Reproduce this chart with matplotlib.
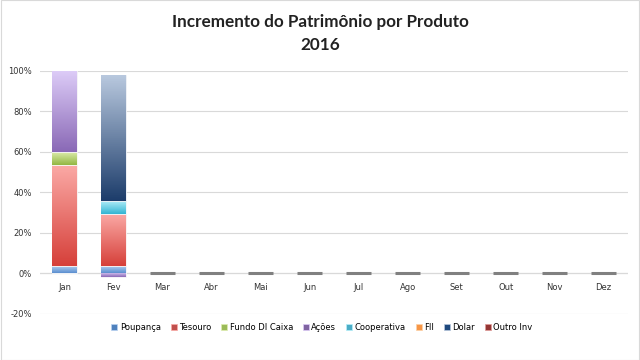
import numpy as np
import matplotlib.pyplot as plt
from matplotlib.colors import LinearSegmentedColormap
from matplotlib.patches import Patch
from matplotlib.ticker import FuncFormatter

months = ["Jan", "Fev", "Mar", "Abr", "Mai", "Jun", "Jul", "Ago", "Set", "Out", "Nov", "Dez"]
produtos = ["Poupança", "Tesouro", "Fundo DI Caixa", "Ações", "Cooperativa", "FII", "Dolar", "Outro Inv"]

# share of the month's increment (fraction)
poupanca = [0.035, 0.035, 0, 0, 0, 0, 0, 0, 0, 0, 0, 0]
tesouro = [0.50, 0.26, 0, 0, 0, 0, 0, 0, 0, 0, 0, 0]
fundo_di = [0.065, 0.0, 0, 0, 0, 0, 0, 0, 0, 0, 0, 0]
acoes = [0.40, -0.02, 0, 0, 0, 0, 0, 0, 0, 0, 0, 0]
cooperativa = [0.0, 0.065, 0, 0, 0, 0, 0, 0, 0, 0, 0, 0]
fii = [0, 0, 0, 0, 0, 0, 0, 0, 0, 0, 0, 0]
dolar = [0.0, 0.62, 0, 0, 0, 0, 0, 0, 0, 0, 0, 0]
outro = [0, 0, 0, 0, 0, 0, 0, 0, 0, 0, 0, 0]

series = [poupanca, tesouro, fundo_di, acoes, cooperativa, fii, dolar, outro]

# (light top, dark bottom, legend colour)
COLORS = [
    ("#b9d3f2", "#5b8fd0", "#4f81bd"),
    ("#fbaaa6", "#d6403a", "#c0504d"),
    ("#e0eeb0", "#93b743", "#9bbb59"),
    ("#dccbf7", "#8a69b6", "#8064a2"),
    ("#b6f0fa", "#33b5d3", "#4bacc6"),
    ("#fcd2a8", "#f08a2c", "#f79646"),
    ("#b8c8de", "#1d3d6b", "#1f497d"),
    ("#e09a98", "#8c2f2d", "#943634"),
]

fig = plt.figure(figsize=(6.4, 3.6), dpi=100)
fig.patch.set_facecolor("white")
ax = fig.add_axes([0.0625, 0.128, 0.919, 0.675])

x = np.arange(len(months))
width = 0.51
pos_bottom = np.zeros(len(months))
neg_bottom = np.zeros(len(months))

for vals, (c_top, c_bot, c_leg) in zip(series, COLORS):
    vals = np.array(vals, dtype=float)
    bottoms = np.where(vals >= 0, pos_bottom, neg_bottom)
    bars = ax.bar(x, vals, width, bottom=bottoms, color=c_leg, edgecolor="white",
                  linewidth=0.6, zorder=3)
    cmap = LinearSegmentedColormap.from_list("g", [c_bot, c_top])
    grad = np.linspace(0, 1, 64).reshape(-1, 1)
    for b, v in zip(bars, vals):
        if v == 0:
            b.set_visible(False)
            continue
        x0, y0 = b.get_x(), b.get_y()
        w, h = b.get_width(), b.get_height()
        y_lo, y_hi = min(y0, y0 + h), max(y0, y0 + h)
        im = ax.imshow(grad, cmap=cmap, aspect="auto", origin="lower",
                       extent=(x0, x0 + w, y_lo, y_hi), zorder=3)
        im.set_clip_path(b)
    pos_bottom += np.where(vals > 0, vals, 0)
    neg_bottom += np.where(vals < 0, vals, 0)

# empty months show as a flat grey bar at zero
total = np.abs(np.array(series)).sum(axis=0)
ax.bar(x, np.zeros(len(months)), width, bottom=0, color="#999999",
       edgecolor=["#808080" if t == 0 else "none" for t in total],
       linewidth=2.2, zorder=2)

ax.set_xlim(-0.5, len(months) - 0.5)
ax.set_ylim(-0.2, 1.0)
ax.set_yticks(np.arange(-0.2, 1.01, 0.2))
ax.yaxis.set_major_formatter(FuncFormatter(lambda v, p: f"{v * 100:.0f}%"))
ax.set_xticks(x)
ax.set_xticklabels(months)
ax.spines["bottom"].set_position(("data", 0))
ax.tick_params(axis="both", length=0, labelsize=6, colors="#333333")
ax.tick_params(axis="x", pad=7)
ax.tick_params(axis="y", pad=6)
ax.grid(axis="y", color="#d9d9d9", linewidth=0.8, zorder=0)
ax.axhline(0, color="#bfbfbf", linewidth=0.8, zorder=1)
for s in ax.spines.values():
    s.set_visible(False)

fig.text(0.5, 0.94, "Incremento do Patrimônio por Produto", ha="center", va="center",
         fontsize=12.3, fontweight="bold", family="Lato", color="#222222")
fig.text(0.5, 0.875, "2016", ha="center", va="center",
         fontsize=12.3, fontweight="bold", family="Lato", color="#222222")

handles = [Patch(facecolor=c[2], edgecolor=c[0], linewidth=0.5) for c in COLORS]
fig.legend(handles, produtos, loc="center", bbox_to_anchor=(0.503, 0.09), ncol=8,
           frameon=False, fontsize=6, handlelength=0.7, handleheight=0.7,
           handletextpad=0.3, columnspacing=1.2)

# light frame round the picture
fig.add_artist(plt.Rectangle((0.001, 0.001), 0.998, 0.998, transform=fig.transFigure,
                             fill=False, edgecolor="#d9d9d9", linewidth=0.8))

fig.savefig("out.png", dpi=100)
